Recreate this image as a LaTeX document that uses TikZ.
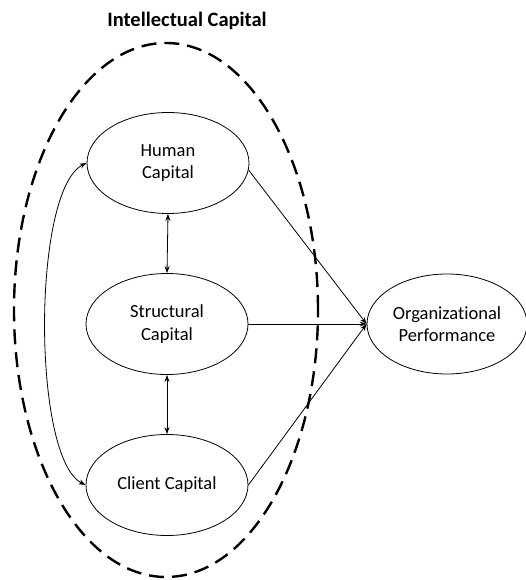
\documentclass[tikz,border=0pt]{standalone}
\usepackage{fontspec}
\setmainfont{Carlito}[Ligatures={NoCommon}]
\usetikzlibrary{shapes.geometric,arrows.meta}
\begin{document}
\begin{tikzpicture}[x=1pt,y=-1pt,
  capnode/.style={draw,ellipse,line width=0.8pt,minimum width=162pt,minimum height=101pt,inner sep=0pt,align=center,font=\fontsize{18.5}{22.5}\selectfont},
  conn/.style={line width=0.8pt,-{Stealth[length=7pt,width=5pt]}},
  bconn/.style={line width=0.8pt,{Stealth[length=7pt,width=5pt]}-{Stealth[length=7pt,width=5pt]}},
  ]
\useasboundingbox (0,0) rectangle (526,580);
\node[draw,ellipse,dash pattern=on 15pt off 8pt,line width=2.4pt,minimum width=304pt,minimum height=534pt,inner sep=0pt] (ic) at (166,310) {};
\node[font=\bfseries\fontsize{20.5}{24}\selectfont] (title) at (187,21) {Intellectual Capital};
\node[capnode] (hc) at (168,163) {Human\\Capital};
\node[capnode] (sc) at (167,324) {Structural\\Capital};
\node[capnode] (cc) at (167,485) {Client Capital};
\node[capnode,minimum width=160pt,minimum height=100pt] (op) at (447,324) {Organizational\\Performance};
\draw[conn] (hc.-5) -- (op.west);
\draw[conn] (sc.east) -- (op.west);
\draw[conn] (cc.east) -- (op.west);
\draw[bconn] (hc.south) -- (sc.north);
\draw[bconn] (sc.south) -- (cc.north);
\draw[bconn] (hc.west) .. controls (32,190) and (32,458) .. (cc.west);
\end{tikzpicture}
\end{document}
